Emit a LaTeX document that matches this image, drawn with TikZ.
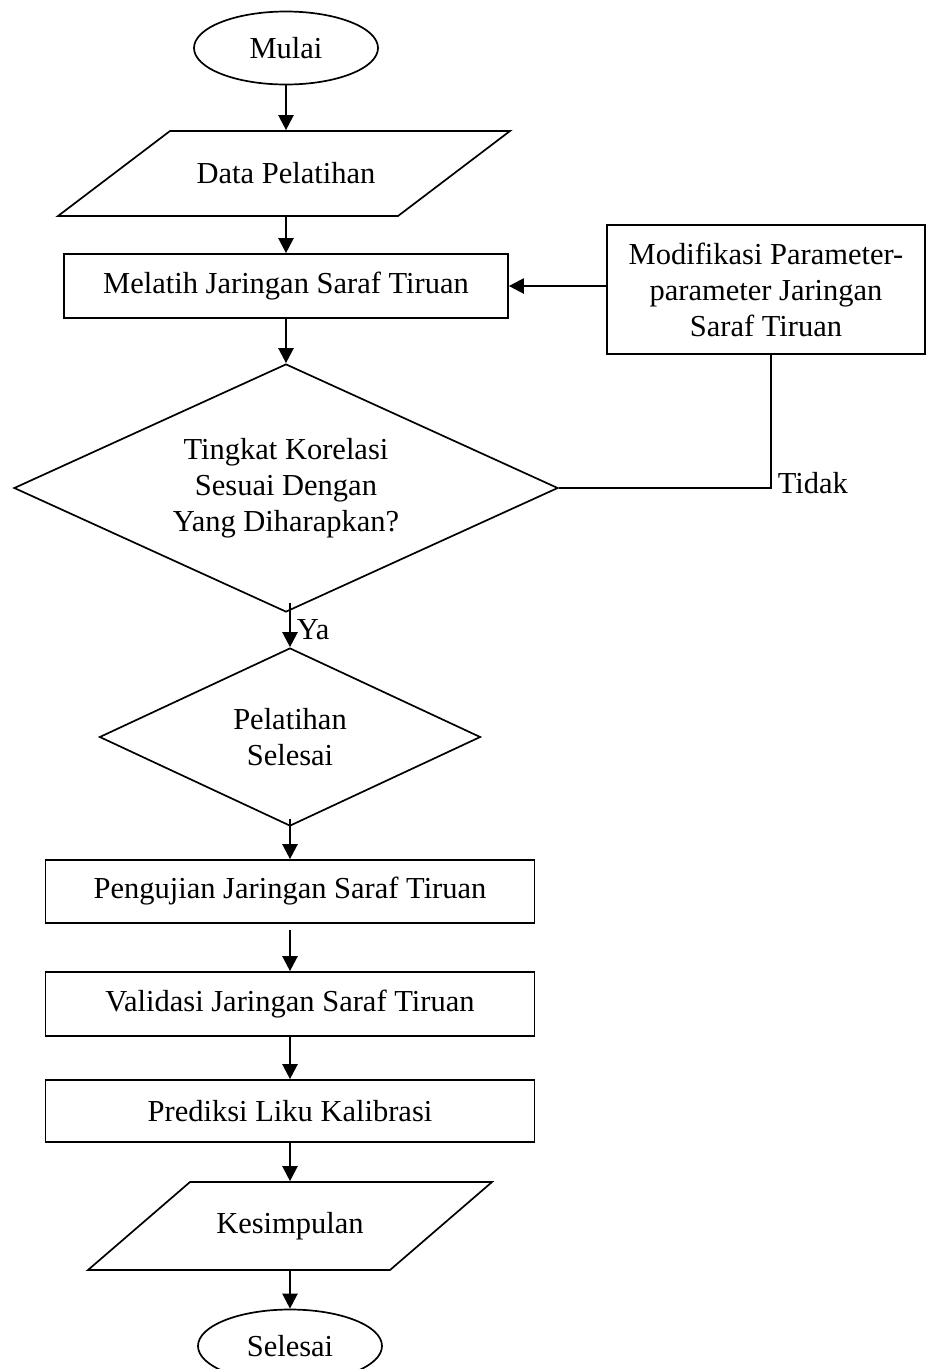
\documentclass[tikz,border=0pt]{standalone}
\usepackage{fontspec}
\setmainfont{Liberation Serif}
\usetikzlibrary{shapes.geometric,arrows.meta,calc}
\begin{document}
\begin{tikzpicture}[x=1pt,y=-1pt, line width=1.7pt,
 every node/.style={font=\fontsize{30.5}{36}\selectfont, inner sep=0pt},
 term/.style={draw, ellipse, minimum width=184pt, minimum height=73pt},
 proc/.style={draw, rectangle, align=center},
 dec/.style={draw, diamond, align=center},
 io/.style={rectangle, draw=none},
 lbl/.style={anchor=west},
 arr/.style={line width=2.3pt, -{Triangle[width=15pt,length=15pt]}}]
\useasboundingbox (0,0) rectangle (926,1369);
\node[term] (start) at (286,48) {Mulai};
\node[io, minimum width=340pt, minimum height=85pt] (data) at (286,173.5) {Data Pelatihan};
\draw (170,131) -- (510,131) -- (398,216) -- (58,216) -- cycle;
\node[proc, minimum width=444pt, minimum height=64pt] (train) at (286,286) {Melatih Jaringan Saraf Tiruan};
\node[proc, minimum width=318pt, minimum height=129pt] (mod) at (766,289.5) {Modifikasi Parameter-\\parameter Jaringan\\Saraf Tiruan};
\node[dec, minimum width=544pt, minimum height=248pt, aspect=2.19] (corr) at (286,488) {Tingkat Korelasi\\Sesuai Dengan\\Yang Diharapkan?};
\node[dec, minimum width=381pt, minimum height=178pt, aspect=2.14] (done) at (290,737) {Pelatihan\\Selesai};
\node[proc, minimum width=489pt, minimum height=63pt] (test) at (290,891.5) {Pengujian Jaringan Saraf Tiruan};
\node[proc, minimum width=489pt, minimum height=64pt] (val) at (290,1004) {Validasi Jaringan Saraf Tiruan};
\node[proc, minimum width=489pt, minimum height=62pt] (pred) at (290,1111) {Prediksi Liku Kalibrasi};
\node[io, minimum width=302pt, minimum height=88pt] (conc) at (290,1226) {Kesimpulan};
\draw (190,1182) -- (492,1182) -- (390,1270) -- (88,1270) -- cycle;
\node[term] (end) at (290,1346) {Selesai};
\draw[arr] (start.south) -- (data.north);
\draw[arr] (data.south) -- (train.north);
\draw[arr] (train.south) -- (corr.north);
\draw[arr] (mod.west |- train.east) -- (train.east);
\draw (corr.east) -| ($(mod.south)+(5,0)$);
\node[lbl] (tidak) at (777,483) {Tidak};
\draw[arr] ($(done.north)+(0,-44)$) -- (done.north);
\node[lbl] (ya) at (296,630) {Ya};
\draw[arr] ($(done.south)+(0,-8)$) -- (test.north);
\draw[arr] ($(test.south)+(0,6)$) -- (val.north);
\draw[arr] (val.south) -- (pred.north);
\draw[arr] (pred.south) -- (conc.north);
\draw[arr] (conc.south) -- (end.north);
\end{tikzpicture}
\end{document}
